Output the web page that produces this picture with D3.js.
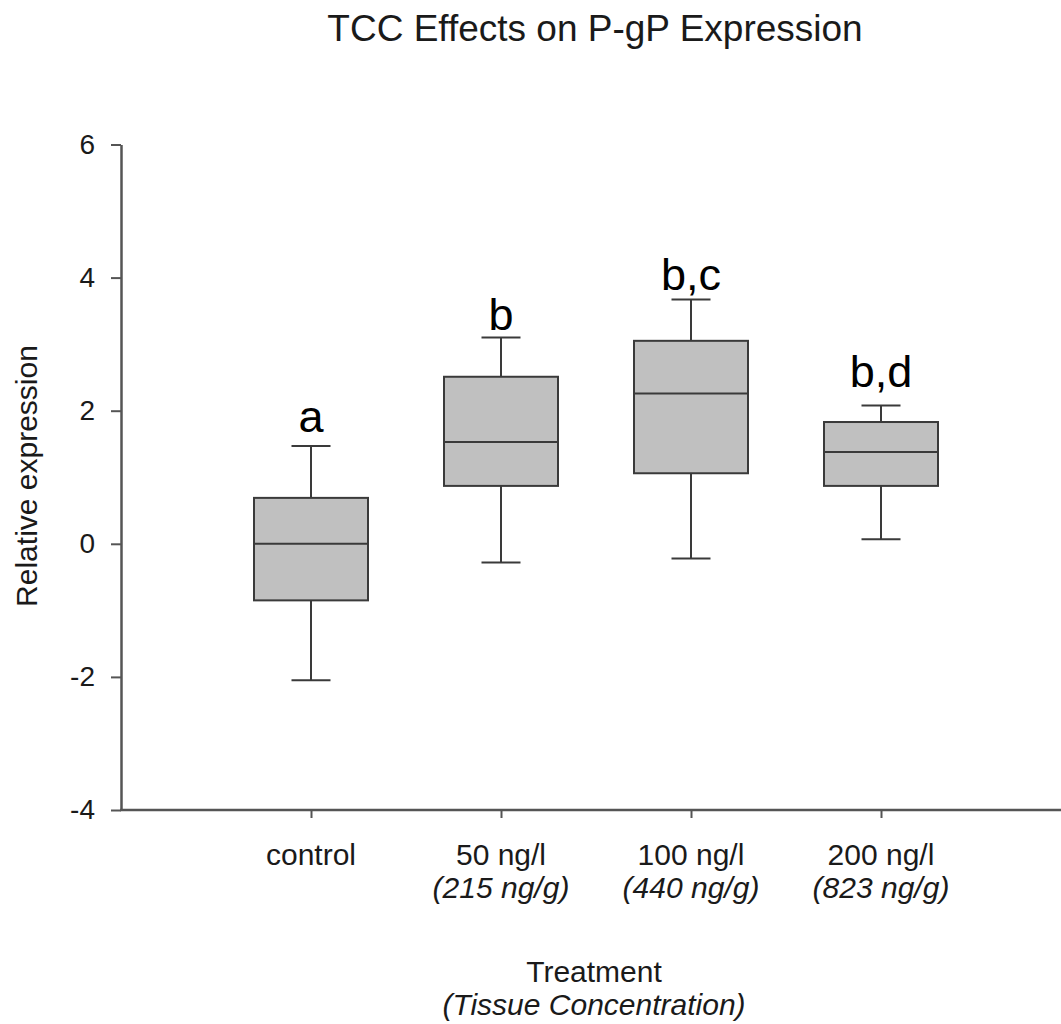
<!DOCTYPE html>
<html>
<head>
<meta charset="utf-8">
<script src="https://cdn.jsdelivr.net/npm/d3@7"></script>
<style>
  html, body { margin: 0; padding: 0; background: #fff; }
  svg { display: block; font-family: "Liberation Sans", Arial, Helvetica, sans-serif; }
</style>
</head>
<body>
<svg id="chart" width="1061" height="1024"></svg>
<script>
// ---- data ----
const categories = ["control", "50 ng/l", "100 ng/l", "200 ng/l"];
const tissueLabels = ["", "(215 ng/g)", "(440 ng/g)", "(823 ng/g)"];
const whiskerLow = [-2.05, -0.28, -0.22, 0.07];
const q1 = [-0.85, 0.87, 1.06, 0.87];
const median = [0.0, 1.53, 2.26, 1.38];
const q3 = [0.69, 2.51, 3.05, 1.83];
const whiskerHigh = [1.47, 3.10, 3.67, 2.08];
const groupLetters = ["a", "b", "b,c", "b,d"];
const letterValues = [1.68, 3.21, 3.82, 2.36];
const yTicks = [-4, -2, 0, 2, 4, 6];
const yTickLabels = ["-4", "-2", "0", "2", "4", "6"];

const title = "TCC Effects on P-gP Expression";
const yTitle = "Relative expression";
const xTitle1 = "Treatment";
const xTitle2 = "(Tissue Concentration)";

// ---- layout ----
const svg = d3.select("#chart");
const axisColor = "#555";
const boxStroke = "#3a3a3a";
const boxFill = "#c0c0c0";
const textColor = "#1a1a1a";

const x = d3.scalePoint().domain(categories).range([121, 1071]).padding(1);
const y = d3.scaleLinear().domain([-4, 6]).range([810, 144.5]);

const boxW = 114, capW = 39;

const data = categories.map((c, i) => ({
  cat: c, lo: whiskerLow[i], q1: q1[i], med: median[i], q3: q3[i], hi: whiskerHigh[i],
  letter: groupLetters[i], lv: letterValues[i], tissue: tissueLabels[i]
}));

// title
svg.append("text")
  .attr("x", 595).attr("y", 41)
  .attr("text-anchor", "middle")
  .attr("font-size", 37)
  .attr("fill", textColor)
  .text(title);

// y axis
const yAxis = svg.append("g")
  .attr("transform", "translate(121,0)")
  .call(d3.axisLeft(y).tickValues(yTicks).tickSize(10).tickSizeOuter(0).tickPadding(16)
    .tickFormat(d => yTickLabels[yTicks.indexOf(d)]));
yAxis.select(".domain").attr("stroke", axisColor).attr("stroke-width", 2.5);
yAxis.selectAll(".tick line").attr("stroke", axisColor).attr("stroke-width", 2);
yAxis.selectAll(".tick text").attr("font-size", 28).attr("fill", textColor)
  .attr("font-family", "Liberation Sans, Arial, sans-serif");

// x axis
const xAxis = svg.append("g")
  .attr("transform", "translate(0,810)")
  .call(d3.axisBottom(x).tickSize(8).tickSizeOuter(0).tickFormat(() => ""));
xAxis.select(".domain").attr("stroke", axisColor).attr("stroke-width", 2.5)
  .attr("d", "M120,0H1061");
xAxis.selectAll(".tick line").attr("stroke", axisColor).attr("stroke-width", 2);

// x tick labels (two lines)
const xl = svg.append("g");
xl.selectAll("text.cat").data(data).join("text")
  .attr("class", "cat")
  .attr("x", d => x(d.cat)).attr("y", 865)
  .attr("text-anchor", "middle").attr("font-size", 30).attr("fill", textColor)
  .text(d => d.cat);
xl.selectAll("text.tis").data(data.filter(d => d.tissue)).join("text")
  .attr("class", "tis")
  .attr("x", d => x(d.cat)).attr("y", 898)
  .attr("text-anchor", "middle").attr("font-size", 30).attr("font-style", "italic").attr("fill", textColor)
  .text(d => d.tissue);

// axis titles
svg.append("text")
  .attr("x", 594).attr("y", 982)
  .attr("text-anchor", "middle").attr("font-size", 30).attr("fill", textColor)
  .text(xTitle1);
svg.append("text")
  .attr("x", 594).attr("y", 1015)
  .attr("text-anchor", "middle").attr("font-size", 30).attr("font-style", "italic").attr("fill", textColor)
  .text(xTitle2);
svg.append("text")
  .attr("transform", "translate(37,476) rotate(-90)")
  .attr("text-anchor", "middle").attr("font-size", 30).attr("fill", textColor)
  .text(yTitle);

// boxes
const g = svg.append("g");
const box = g.selectAll("g.box").data(data).join("g").attr("class", "box");

// whisker stems
box.append("line")
  .attr("x1", d => x(d.cat)).attr("x2", d => x(d.cat))
  .attr("y1", d => y(d.hi)).attr("y2", d => y(d.q3))
  .attr("stroke", boxStroke).attr("stroke-width", 2);
box.append("line")
  .attr("x1", d => x(d.cat)).attr("x2", d => x(d.cat))
  .attr("y1", d => y(d.q1)).attr("y2", d => y(d.lo))
  .attr("stroke", boxStroke).attr("stroke-width", 2);
// caps
box.append("line")
  .attr("x1", d => x(d.cat) - capW / 2).attr("x2", d => x(d.cat) + capW / 2)
  .attr("y1", d => y(d.hi)).attr("y2", d => y(d.hi))
  .attr("stroke", boxStroke).attr("stroke-width", 2);
box.append("line")
  .attr("x1", d => x(d.cat) - capW / 2).attr("x2", d => x(d.cat) + capW / 2)
  .attr("y1", d => y(d.lo)).attr("y2", d => y(d.lo))
  .attr("stroke", boxStroke).attr("stroke-width", 2);
// box rect
box.append("rect")
  .attr("x", d => x(d.cat) - boxW / 2).attr("width", boxW)
  .attr("y", d => y(d.q3)).attr("height", d => y(d.q1) - y(d.q3))
  .attr("fill", boxFill).attr("stroke", boxStroke).attr("stroke-width", 2);
// median
box.append("line")
  .attr("x1", d => x(d.cat) - boxW / 2).attr("x2", d => x(d.cat) + boxW / 2)
  .attr("y1", d => y(d.med)).attr("y2", d => y(d.med))
  .attr("stroke", boxStroke).attr("stroke-width", 2);
// group letters
box.append("text")
  .attr("x", d => x(d.cat)).attr("y", d => y(d.lv))
  .attr("text-anchor", "middle").attr("font-size", 45).attr("fill", "#000")
  .text(d => d.letter);
</script>
</body>
</html>
